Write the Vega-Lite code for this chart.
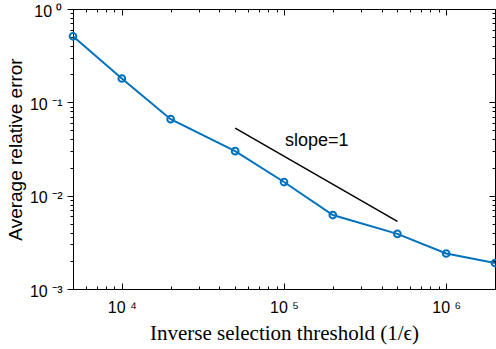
{
  "$schema": "https://vega.github.io/schema/vega-lite/v6.json",
  "width": 422,
  "height": 280,
  "autosize": "none",
  "padding": {"left": 73, "top": 9, "right": 1, "bottom": 60},
  "background": "white",
  "config": {
    "view": {"stroke": "black", "strokeWidth": 1},
    "font": "Liberation Sans",
    "axis": {
      "grid": false,
      "domainColor": "black",
      "tickColor": "black",
      "labelColor": "black",
      "titleColor": "black",
      "labelFont": "Liberation Sans",
      "labelFontSize": 16
    }
  },
  "datasets": {
    "series": [
      {"x": 5000, "y": 0.51},
      {"x": 10000, "y": 0.18},
      {"x": 20000, "y": 0.066},
      {"x": 50000, "y": 0.030},
      {"x": 100000, "y": 0.014},
      {"x": 200000, "y": 0.0062},
      {"x": 500000, "y": 0.0039},
      {"x": 1000000, "y": 0.0024},
      {"x": 2000000, "y": 0.0019}
    ],
    "slope": [
      {"x": 50000, "y": 0.053},
      {"x": 500000, "y": 0.0053}
    ],
    "label": [
      {"x": 159000, "y": 0.039, "text": "slope=1"}
    ]
  },
  "layer": [
    {
      "data": {"name": "series"},
      "mark": {"type": "line", "color": "#0072BD", "strokeWidth": 2},
      "encoding": {
        "x": {
          "field": "x", "type": "quantitative",
          "scale": {"type": "log", "domain": [5000, 2000000], "nice": false},
          "axis": {
            "orient": "bottom",
            "title": "Inverse selection threshold (1/ϵ)",
            "titleFont": "Liberation Serif",
            "titleFontSize": 21,
            "titleFontWeight": "normal",
            "titlePadding": 4,
            "values": [5000,6000,7000,8000,9000,10000,20000,30000,40000,50000,60000,70000,80000,90000,100000,200000,300000,400000,500000,600000,700000,800000,900000,1000000,2000000],
            "labelExpr": "datum.value == 10000 ? '10 ⁴' : datum.value == 100000 ? '10 ⁵' : datum.value == 1000000 ? '10 ⁶' : ''",
            "tickSize": {"condition": {"test": "datum.value == 10000 || datum.value == 100000 || datum.value == 1000000", "value": -6}, "value": -3},
            "labelPadding": 16,
            "labelFlush": false,
            "labelOverlap": false
          }
        },
        "y": {
          "field": "y", "type": "quantitative",
          "scale": {"type": "log", "domain": [0.001, 1], "nice": false},
          "axis": {
            "orient": "left",
            "title": "Average relative error",
            "titleFont": "Liberation Sans",
            "titleFontSize": 19,
            "titleFontWeight": "normal",
            "titlePadding": 4,
            "values": [0.001,0.002,0.003,0.004,0.005,0.006,0.007,0.008,0.009,0.01,0.02,0.03,0.04,0.05,0.06,0.07,0.08,0.09,0.1,0.2,0.3,0.4,0.5,0.6,0.7,0.8,0.9,1],
            "labelExpr": "datum.value == 1 ? '10 ⁰' : datum.value == 0.1 ? '10 ⁻¹' : datum.value == 0.01 ? '10 ⁻²' : datum.value == 0.001 ? '10 ⁻³' : ''",
            "tickSize": {"condition": {"test": "datum.value == 1 || datum.value == 0.1 || datum.value == 0.01 || datum.value == 0.001", "value": 6}, "value": 3},
            "labelPadding": 5,
            "labelOffset": 2,
            "labelFlush": false,
            "labelOverlap": false
          }
        }
      }
    },
    {
      "data": {"name": "series"},
      "mark": {"type": "point", "filled": false, "color": "#0072BD", "strokeWidth": 2, "size": 45, "opacity": 1},
      "encoding": {
        "x": {"field": "x", "type": "quantitative", "axis": null},
        "y": {"field": "y", "type": "quantitative", "axis": null}
      }
    },
    {
      "data": {"name": "slope"},
      "mark": {"type": "line", "color": "black", "strokeWidth": 1.5},
      "encoding": {
        "x": {"field": "x", "type": "quantitative",
          "axis": {
            "orient": "top", "title": null, "labels": false, "domain": false,
            "values": [5000,6000,7000,8000,9000,10000,20000,30000,40000,50000,60000,70000,80000,90000,100000,200000,300000,400000,500000,600000,700000,800000,900000,1000000,2000000],
            "tickSize": {"condition": {"test": "datum.value == 10000 || datum.value == 100000 || datum.value == 1000000", "value": -6}, "value": -3}
          }
        },
        "y": {"field": "y", "type": "quantitative",
          "axis": {
            "orient": "right", "title": null, "labels": false, "domain": false,
            "values": [0.001,0.002,0.003,0.004,0.005,0.006,0.007,0.008,0.009,0.01,0.02,0.03,0.04,0.05,0.06,0.07,0.08,0.09,0.1,0.2,0.3,0.4,0.5,0.6,0.7,0.8,0.9,1],
            "tickSize": {"condition": {"test": "datum.value == 1 || datum.value == 0.1 || datum.value == 0.01 || datum.value == 0.001", "value": -6}, "value": -3}
          }
        }
      }
    },
    {
      "data": {"name": "label"},
      "mark": {"type": "text", "fontSize": 18, "color": "black", "font": "Liberation Sans", "align": "center", "baseline": "middle"},
      "encoding": {
        "x": {"field": "x", "type": "quantitative", "axis": null},
        "y": {"field": "y", "type": "quantitative", "axis": null},
        "text": {"field": "text"}
      }
    }
  ],
  "resolve": {"axis": {"x": "independent", "y": "independent"}}
}
